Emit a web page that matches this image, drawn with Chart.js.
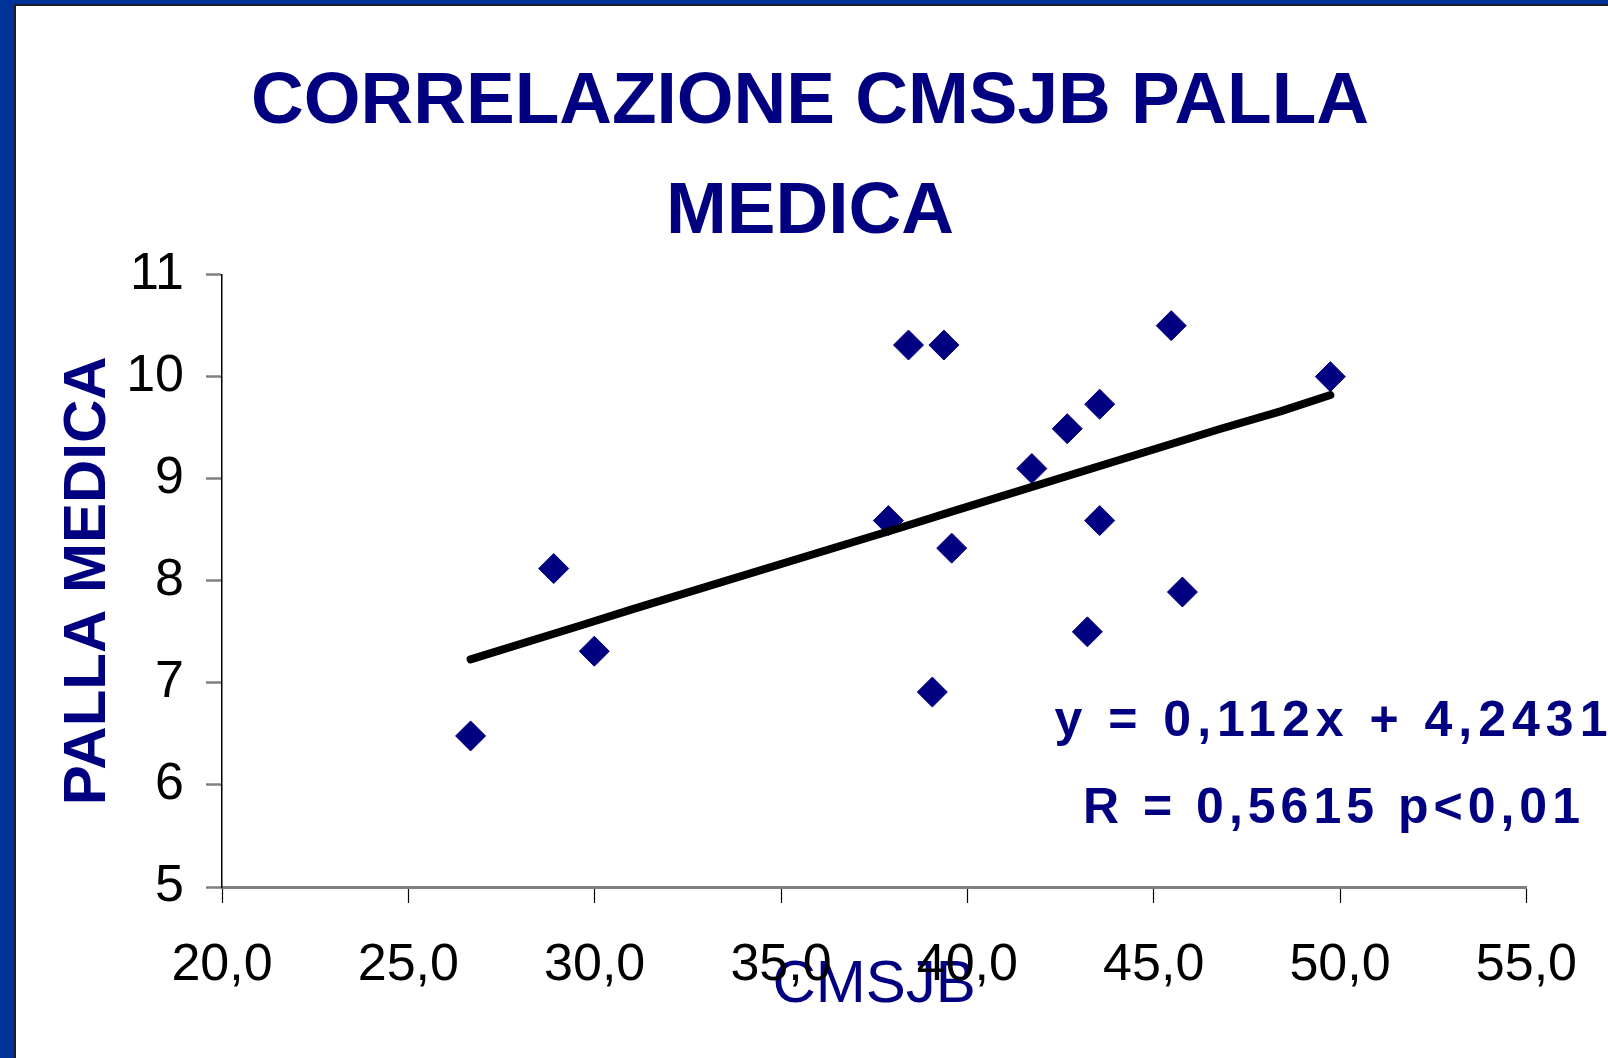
<!DOCTYPE html>
<html><head><meta charset="utf-8">
<script src="https://cdn.jsdelivr.net/npm/chart.js@4.4.0/dist/chart.umd.min.js"></script>
<style>
html,body{margin:0;padding:0;width:1608px;height:1058px;overflow:hidden;background:#003399;}
#paper{position:absolute;left:14px;top:4px;right:0;bottom:0;background:#fff;border-left:2px solid #1c1c2a;border-top:2px solid #1c1c2a;}
#c{position:absolute;left:0;top:0;}
</style></head><body>
<div id="paper"></div>
<canvas id="c" width="1608" height="1058"></canvas>
<script>
// ---- data ----
const cmsjb       = [26.67, 28.90, 29.99, 37.88, 38.42, 39.37, 39.06, 39.58, 41.73, 42.68, 43.22, 43.55, 43.55, 45.47, 45.77, 49.74];
const pallaMedica = [6.48, 8.12, 7.31, 8.59, 10.31, 10.31, 6.91, 8.32, 9.10, 9.49, 7.50, 9.73, 8.59, 10.50, 7.89, 10.00];
const trendX = [26.67, 29.6, 31.0, 38.2, 39.6, 46.8, 48.4, 49.74];
const trendY = [7.23, 7.56, 7.72, 8.52, 8.68, 9.49, 9.66, 9.82];
const xTickLabels = ['20,0', '25,0', '30,0', '35,0', '40,0', '45,0', '50,0', '55,0'];
const yTickLabels = ['5', '6', '7', '8', '9', '10', '11'];
const titleLines = ['CORRELAZIONE CMSJB PALLA', 'MEDICA'];
const xAxisTitle = 'CMSJB';
const yAxisTitle = 'PALLA MEDICA';
const equationLines = ['y = 0,112x + 4,2431', 'R = 0,5615 p<0,01'];

const NAVY = '#000080';
const points = cmsjb.map((x, i) => ({x: x, y: pallaMedica[i]}));
const trend = trendX.map((x, i) => ({x: x, y: trendY[i]}));

const eqPlugin = {
  id: 'equation',
  afterDraw(chart) {
    const ctx = chart.ctx;
    ctx.save();
    ctx.font = 'bold 50px "Liberation Sans", Arial, sans-serif';
    ctx.fillStyle = NAVY;
    ctx.textAlign = 'center';
    ctx.textBaseline = 'alphabetic';
    try { ctx.letterSpacing = '6px'; } catch (e) {}
    ctx.fillText(equationLines[0], 1334, 736);
    try { ctx.letterSpacing = '5px'; } catch (e) {}
    ctx.fillText(equationLines[1], 1334, 823);
    ctx.restore();
  }
};

new Chart(document.getElementById('c'), {
  type: 'scatter',
  data: {
    datasets: [
      {
        label: 'Trend',
        type: 'line',
        data: trend,
        showLine: true,
        borderColor: '#000000',
        borderWidth: 8,
        borderCapStyle: 'round',
        borderJoinStyle: 'round',
        pointRadius: 0,
        fill: false,
        tension: 0,
        order: 0
      },
      {
        label: 'PALLA MEDICA',
        data: points,
        pointStyle: 'rectRot',
        pointRadius: 15,
        pointHoverRadius: 15,
        backgroundColor: NAVY,
        borderColor: NAVY,
        borderWidth: 1,
        order: 1
      }
    ]
  },
  options: {
    responsive: false,
    animation: false,
    events: [],
    layout: { padding: { left: 87, right: 75, top: 0, bottom: 0 } },
    plugins: {
      legend: { display: false },
      tooltip: { enabled: false },
      title: {
        display: true,
        text: titleLines,
        color: NAVY,
        font: { family: '"Liberation Sans", Arial, sans-serif', size: 73, weight: 'bold', lineHeight: 110 / 73 },
        padding: { top: 48, bottom: 6.6 }
      }
    },
    scales: {
      x: {
        type: 'linear',
        min: 20, max: 55,
        afterFit: (s) => { s.height = 171; },
        ticks: {
          stepSize: 5,
          color: '#000',
          font: { family: '"Liberation Sans", Arial, sans-serif', size: 52 },
          padding: 31,
          maxRotation: 0,
          callback: (v, i) => xTickLabels[i]
        },
        grid: { drawOnChartArea: false, drawTicks: true, tickLength: 16, color: '#000', tickWidth: 1.2 },
        border: { display: true, color: '#808080', width: 3 },
        title: {
          display: true,
          text: xAxisTitle,
          color: NAVY,
          font: { family: '"Liberation Sans", Arial, sans-serif', size: 60, weight: 'normal', lineHeight: 1.2 },
          padding: { top: 0, bottom: 37 }
        }
      },
      y: {
        type: 'linear',
        min: 5, max: 11,
        afterFit: (s) => { s.width = 135; },
        ticks: {
          stepSize: 1,
          color: '#000',
          font: { family: '"Liberation Sans", Arial, sans-serif', size: 52 },
          padding: 22,
          callback: (v, i) => yTickLabels[i]
        },
        grid: { drawOnChartArea: false, drawTicks: true, tickLength: 16, color: '#808080', tickWidth: 2.5 },
        border: { display: true, color: '#000', width: 1.5 },
        title: {
          display: true,
          text: yAxisTitle,
          color: NAVY,
          font: { family: '"Liberation Sans", Arial, sans-serif', size: 60, weight: 'bold', lineHeight: 1.2 },
          padding: { top: -35, bottom: 0 }
        }
      }
    }
  },
  plugins: [eqPlugin]
});
</script>
</body></html>
